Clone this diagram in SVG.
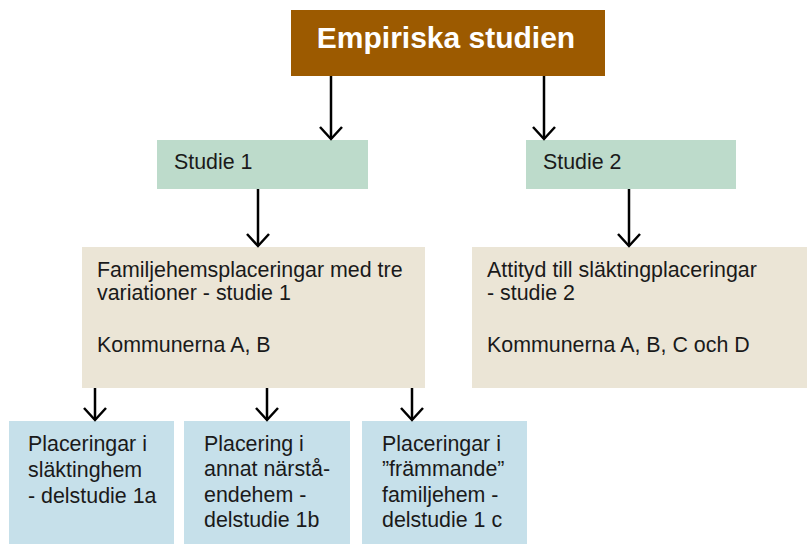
<svg xmlns="http://www.w3.org/2000/svg" width="807" height="544" viewBox="0 0 807 544">
<defs>
<style>
.t{font-family:"Liberation Sans",Arial,sans-serif;font-size:21.4px;fill:#1a1a1a}
.title{font-family:"Liberation Sans",Arial,sans-serif;font-size:30px;font-weight:bold;fill:#ffffff}
.green{fill:#bddbcb}
.beige{fill:#ebe5d6}
.blue{fill:#c6e0ea}
.c{stroke:#000;stroke-width:2.5;fill:none}
</style>
<marker id="ah" markerUnits="userSpaceOnUse" markerWidth="16" markerHeight="26" refX="13" refY="12" orient="auto" viewBox="0 0 16 24">
<path d="M1,1 L13,12 L1,23" fill="none" stroke="#000" stroke-width="2.5"/>
</marker>
</defs>
<rect width="807" height="544" fill="#ffffff"/>
<g id="empiriska">
<rect x="291" y="10" width="314" height="66" fill="#9c5a00"/>
<text class="title" x="446" y="48" text-anchor="middle">Empiriska studien</text>
</g>
<g id="studie1">
<rect class="green" x="157" y="140" width="211" height="49"/>
<text class="t" x="174" y="169">Studie 1</text>
</g>
<g id="studie2">
<rect class="green" x="526" y="140" width="210" height="49"/>
<text class="t" x="543" y="169">Studie 2</text>
</g>
<g id="familjehem">
<rect class="beige" x="82" y="247" width="343" height="141"/>
<text class="t" x="97" y="277">Familjehemsplaceringar med tre</text>
<text class="t" x="97" y="300">variationer - studie 1</text>
<text class="t" x="97" y="352">Kommunerna A, B</text>
</g>
<g id="attityd">
<rect class="beige" x="472" y="247" width="335" height="141"/>
<text class="t" x="487" y="277">Attityd till släktingplaceringar</text>
<text class="t" x="487" y="300">- studie 2</text>
<text class="t" x="487" y="352">Kommunerna A, B, C och D</text>
</g>
<g id="delstudie1a">
<rect class="blue" x="9" y="421" width="165" height="123"/>
<text class="t" x="28" y="451">Placeringar i</text>
<text class="t" x="28" y="477">släktinghem</text>
<text class="t" x="28" y="503">- delstudie 1a</text>
</g>
<g id="delstudie1b">
<rect class="blue" x="184" y="421" width="166" height="123"/>
<text class="t" x="204" y="451">Placering i</text>
<text class="t" x="204" y="476">annat närstå-</text>
<text class="t" x="204" y="502">endehem -</text>
<text class="t" x="204" y="527">delstudie 1b</text>
</g>
<g id="delstudie1c">
<rect class="blue" x="362" y="421" width="165" height="123"/>
<text class="t" x="382" y="451">Placeringar i</text>
<text class="t" x="382" y="476">”främmande”</text>
<text class="t" x="382" y="502">familjehem -</text>
<text class="t" x="382" y="527">delstudie 1 c</text>
</g>
<g id="connectors">
<line class="c" x1="331" y1="76" x2="331" y2="139" marker-end="url(#ah)"/>
<line class="c" x1="544" y1="76" x2="544" y2="139" marker-end="url(#ah)"/>
<line class="c" x1="258" y1="189" x2="258" y2="246" marker-end="url(#ah)"/>
<line class="c" x1="629" y1="189" x2="629" y2="246" marker-end="url(#ah)"/>
<line class="c" x1="95" y1="388" x2="95" y2="420" marker-end="url(#ah)"/>
<line class="c" x1="267" y1="388" x2="267" y2="420" marker-end="url(#ah)"/>
<line class="c" x1="412" y1="388" x2="412" y2="420" marker-end="url(#ah)"/>
</g>
</svg>
